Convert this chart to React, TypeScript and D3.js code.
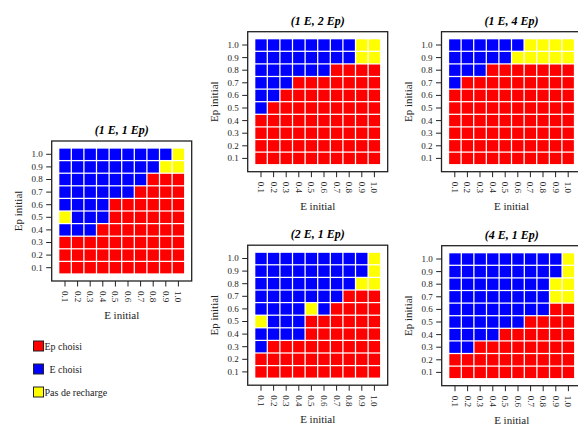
import React from "react";
import * as d3 from "d3";

const eValues = ["0.1", "0.2", "0.3", "0.4", "0.5", "0.6", "0.7", "0.8", "0.9", "1.0"];
const epValues = ["0.1", "0.2", "0.3", "0.4", "0.5", "0.6", "0.7", "0.8", "0.9", "1.0"];

// Rows listed from Ep = 1.0 (top) down to Ep = 0.1; columns E = 0.1 .. 1.0
// R = Ep choisi, B = E choisi, Y = Pas de recharge
const grid1E1Ep = [
  "BBBBBBBBBY",
  "BBBBBBBBYY",
  "BBBBBBBRRR",
  "BBBBBBRRRR",
  "BBBBRRRRRR",
  "YBBBRRRRRR",
  "BBBRRRRRRR",
  "RRRRRRRRRR",
  "RRRRRRRRRR",
  "RRRRRRRRRR",
];
const grid1E2Ep = [
  "BBBBBBBBYY",
  "BBBBBBBBYY",
  "BBBBBBRRRR",
  "BBBRRRRRRR",
  "BBRRRRRRRR",
  "BRRRRRRRRR",
  "RRRRRRRRRR",
  "RRRRRRRRRR",
  "RRRRRRRRRR",
  "RRRRRRRRRR",
];
const grid1E4Ep = [
  "BBBBBBYYYY",
  "BBBBBYYYYY",
  "BBBRRRRRRR",
  "BRRRRRRRRR",
  "RRRRRRRRRR",
  "RRRRRRRRRR",
  "RRRRRRRRRR",
  "RRRRRRRRRR",
  "RRRRRRRRRR",
  "RRRRRRRRRR",
];
const grid2E1Ep = [
  "BBBBBBBBBY",
  "BBBBBBBBBY",
  "BBBBBBBBYY",
  "BBBBBBBRRR",
  "BBBBYBRRRR",
  "YBBBRRRRRR",
  "BBBBRRRRRR",
  "BRRRRRRRRR",
  "RRRRRRRRRR",
  "RRRRRRRRRR",
];
const grid4E1Ep = [
  "BBBBBBBBBY",
  "BBBBBBBBBY",
  "BBBBBBBBYY",
  "BBBBBBBBYY",
  "BBBBBBBBRR",
  "BBBBBBRRRR",
  "BBBBRRRRRR",
  "BBRRRRRRRR",
  "RRRRRRRRRR",
  "RRRRRRRRRR",
];

const panelTitles = ["(1 E, 1 Ep)", "(1 E, 2 Ep)", "(1 E, 4 Ep)", "(2 E, 1 Ep)", "(4 E, 1 Ep)"];
const panelGrids = [grid1E1Ep, grid1E2Ep, grid1E4Ep, grid2E1Ep, grid4E1Ep];
const panelOrigins: [number, number][] = [
  [51.7, 141],
  [247.7, 31.7],
  [441.5, 31.7],
  [247.7, 245.2],
  [441.7, 245.7],
];

const legendCodes = ["R", "B", "Y"];
const legendLabels = ["Ep choisi", "E choisi", "Pas de recharge"];
const legendTextOffsets = [0, 5, 0];

const colorScale = d3
  .scaleOrdinal<string, string>()
  .domain(["R", "B", "Y"])
  .range(["#FF0000", "#0000FF", "#FFFF00"]);

const FONT = "Liberation Serif, Times New Roman, Times, DejaVu Serif, serif";
const BOX = 140;
const PAD = 7;

function Panel({ title, grid, x0, y0 }: { title: string; grid: string[]; x0: number; y0: number }) {
  const xs = d3.scaleBand<string>().domain(eValues).range([x0 + PAD, x0 + BOX - PAD]).paddingInner(0.1).paddingOuter(0.05);
  const ys = d3
    .scaleBand<string>()
    .domain([...epValues].reverse())
    .range([y0 + PAD, y0 + BOX - PAD])
    .paddingInner(0.1)
    .paddingOuter(0.05);
  const rowsTopDown = [...epValues].reverse();
  const cells: React.ReactNode[] = [];
  grid.forEach((row, ri) => {
    row.split("").forEach((c, ci) => {
      cells.push(
        <rect
          key={`${ri}-${ci}`}
          x={xs(eValues[ci])}
          y={ys(rowsTopDown[ri])}
          width={xs.bandwidth()}
          height={ys.bandwidth()}
          fill={colorScale(c)}
        />
      );
    });
  });
  const cx = x0 + BOX / 2;
  const cy = y0 + BOX / 2;
  return (
    <g>
      <text x={cx} y={y0 - 7} textAnchor="middle" style={{ fontFamily: FONT }} fontSize={12} fontWeight="bold" fontStyle="italic">
        {title}
      </text>
      {cells}
      <rect x={x0} y={y0} width={BOX} height={BOX} fill="none" stroke="#222" strokeWidth={1.3} />
      {epValues.map((v) => {
        const y = (ys(v) as number) + ys.bandwidth() / 2;
        return (
          <g key={"y" + v}>
            <line x1={x0 - 5.5} x2={x0} y1={y} y2={y} stroke="#222" strokeWidth={1} />
            <text x={x0 - 9} y={y} dy="0.33em" textAnchor="end" style={{ fontFamily: FONT }} fontSize={9} fill="#222">
              {v}
            </text>
          </g>
        );
      })}
      {eValues.map((v) => {
        const x = (xs(v) as number) + xs.bandwidth() / 2;
        return (
          <g key={"x" + v}>
            <line x1={x} x2={x} y1={y0 + BOX} y2={y0 + BOX + 5.5} stroke="#222" strokeWidth={1} />
            <text
              transform={`translate(${x},${y0 + BOX + 10}) rotate(90)`}
              dy="0.33em"
              textAnchor="start"
              style={{ fontFamily: FONT }}
              fontSize={9}
              fill="#222"
            >
              {v}
            </text>
          </g>
        );
      })}
      <text x={cx} y={y0 + BOX + 38} textAnchor="middle" style={{ fontFamily: FONT }} fontSize={11} fill="#222">
        E initial
      </text>
      <text
        transform={`translate(${x0 - 30},${cy}) rotate(-90)`}
        textAnchor="middle"
        style={{ fontFamily: FONT }}
        fontSize={11}
        fill="#222"
      >
        Ep initial
      </text>
    </g>
  );
}

export default function App() {
  return (
    <svg width={578} height={426} style={{ position: "absolute", left: 0, top: 0, background: "#fff" }}>
      <rect x={0} y={0} width={578} height={426} fill="#fff" />
      {panelTitles.map((t, i) => (
        <Panel key={t} title={t} grid={panelGrids[i]} x0={panelOrigins[i][0]} y0={panelOrigins[i][1]} />
      ))}
      {legendCodes.map((c, i) => (
        <g key={c}>
          <rect x={33.5} y={341 + i * 23} width={10} height={10} fill={colorScale(c)} stroke="#222" strokeWidth={1} />
          <text x={44.5 + legendTextOffsets[i]} y={349.5 + i * 23} style={{ fontFamily: FONT }} fontSize={10} fill="#222">
            {legendLabels[i]}
          </text>
        </g>
      ))}
    </svg>
  );
}
